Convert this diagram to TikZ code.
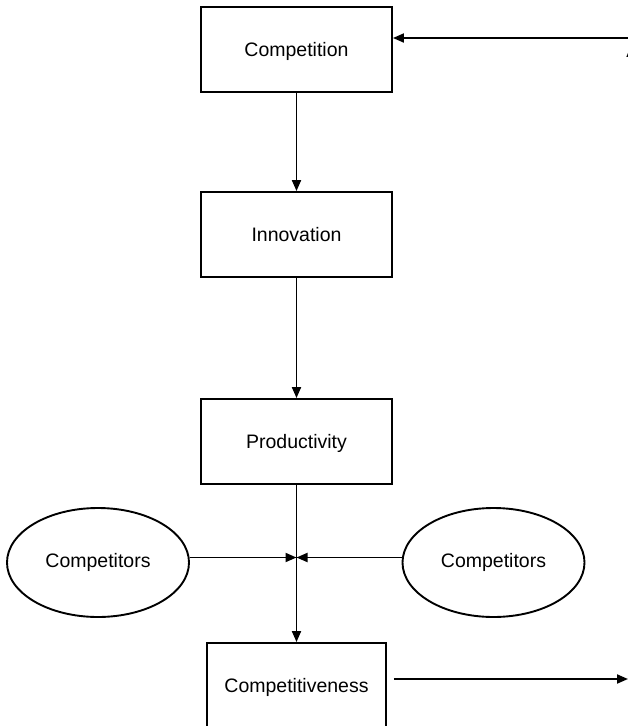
\documentclass[tikz,border=0pt]{standalone}
\usepackage{fontspec}
\setmainfont{Liberation Sans}
\usetikzlibrary{arrows.meta,shapes.geometric}
\begin{document}
\begin{tikzpicture}[x=1pt,y=-1pt,
  line width=1.9pt,
  font=\fontsize{19.5}{23}\selectfont,
  stagebox/.style={draw,rectangle,minimum width=191pt,minimum height=85pt,inner sep=0pt,text depth=1pt},
  rival/.style={draw,ellipse,minimum width=182pt,minimum height=109pt,inner sep=0pt},
  flow/.style={-{Triangle[length=11pt,width=9pt]}}]
\useasboundingbox (0,0) rectangle (628,726);

% main chain of boxes
\node[stagebox] (comp) at (296.5,49.5) {Competition};
\node[stagebox] (inno) at (296.5,234.5) {Innovation};
\node[stagebox] (prod) at (296.5,441.5) {Productivity};
\node[stagebox,minimum width=179pt] (cv) at (296.5,685.5) {Competitiveness};

% rival firms on both sides
\node[rival] (left) at (98,562.5) {Competitors};
\node[rival] (right) at (493.5,562.5) {Competitors};

% junction where the rivals meet the main flow
\coordinate (j) at (296.5,557.5);
\coordinate (feedin) at (640,38);
\coordinate (out) at (628,679);

\draw[flow] (comp) -- (inno);
\draw[flow] (inno) -- (prod);
\draw[flow] (prod) -- (cv);
\draw[flow] (left.east |- j) -- (j);
\draw[flow] (right.west |- j) -- (j);
\draw[flow] (feedin) -- (comp.east |- feedin);
\draw[flow,shorten <=7pt] (cv.east |- out) -- (out);

% label entering from the right edge
\node[anchor=north west,inner sep=0pt] (lbl) at (625.5,43) {A};
\end{tikzpicture}
\end{document}
